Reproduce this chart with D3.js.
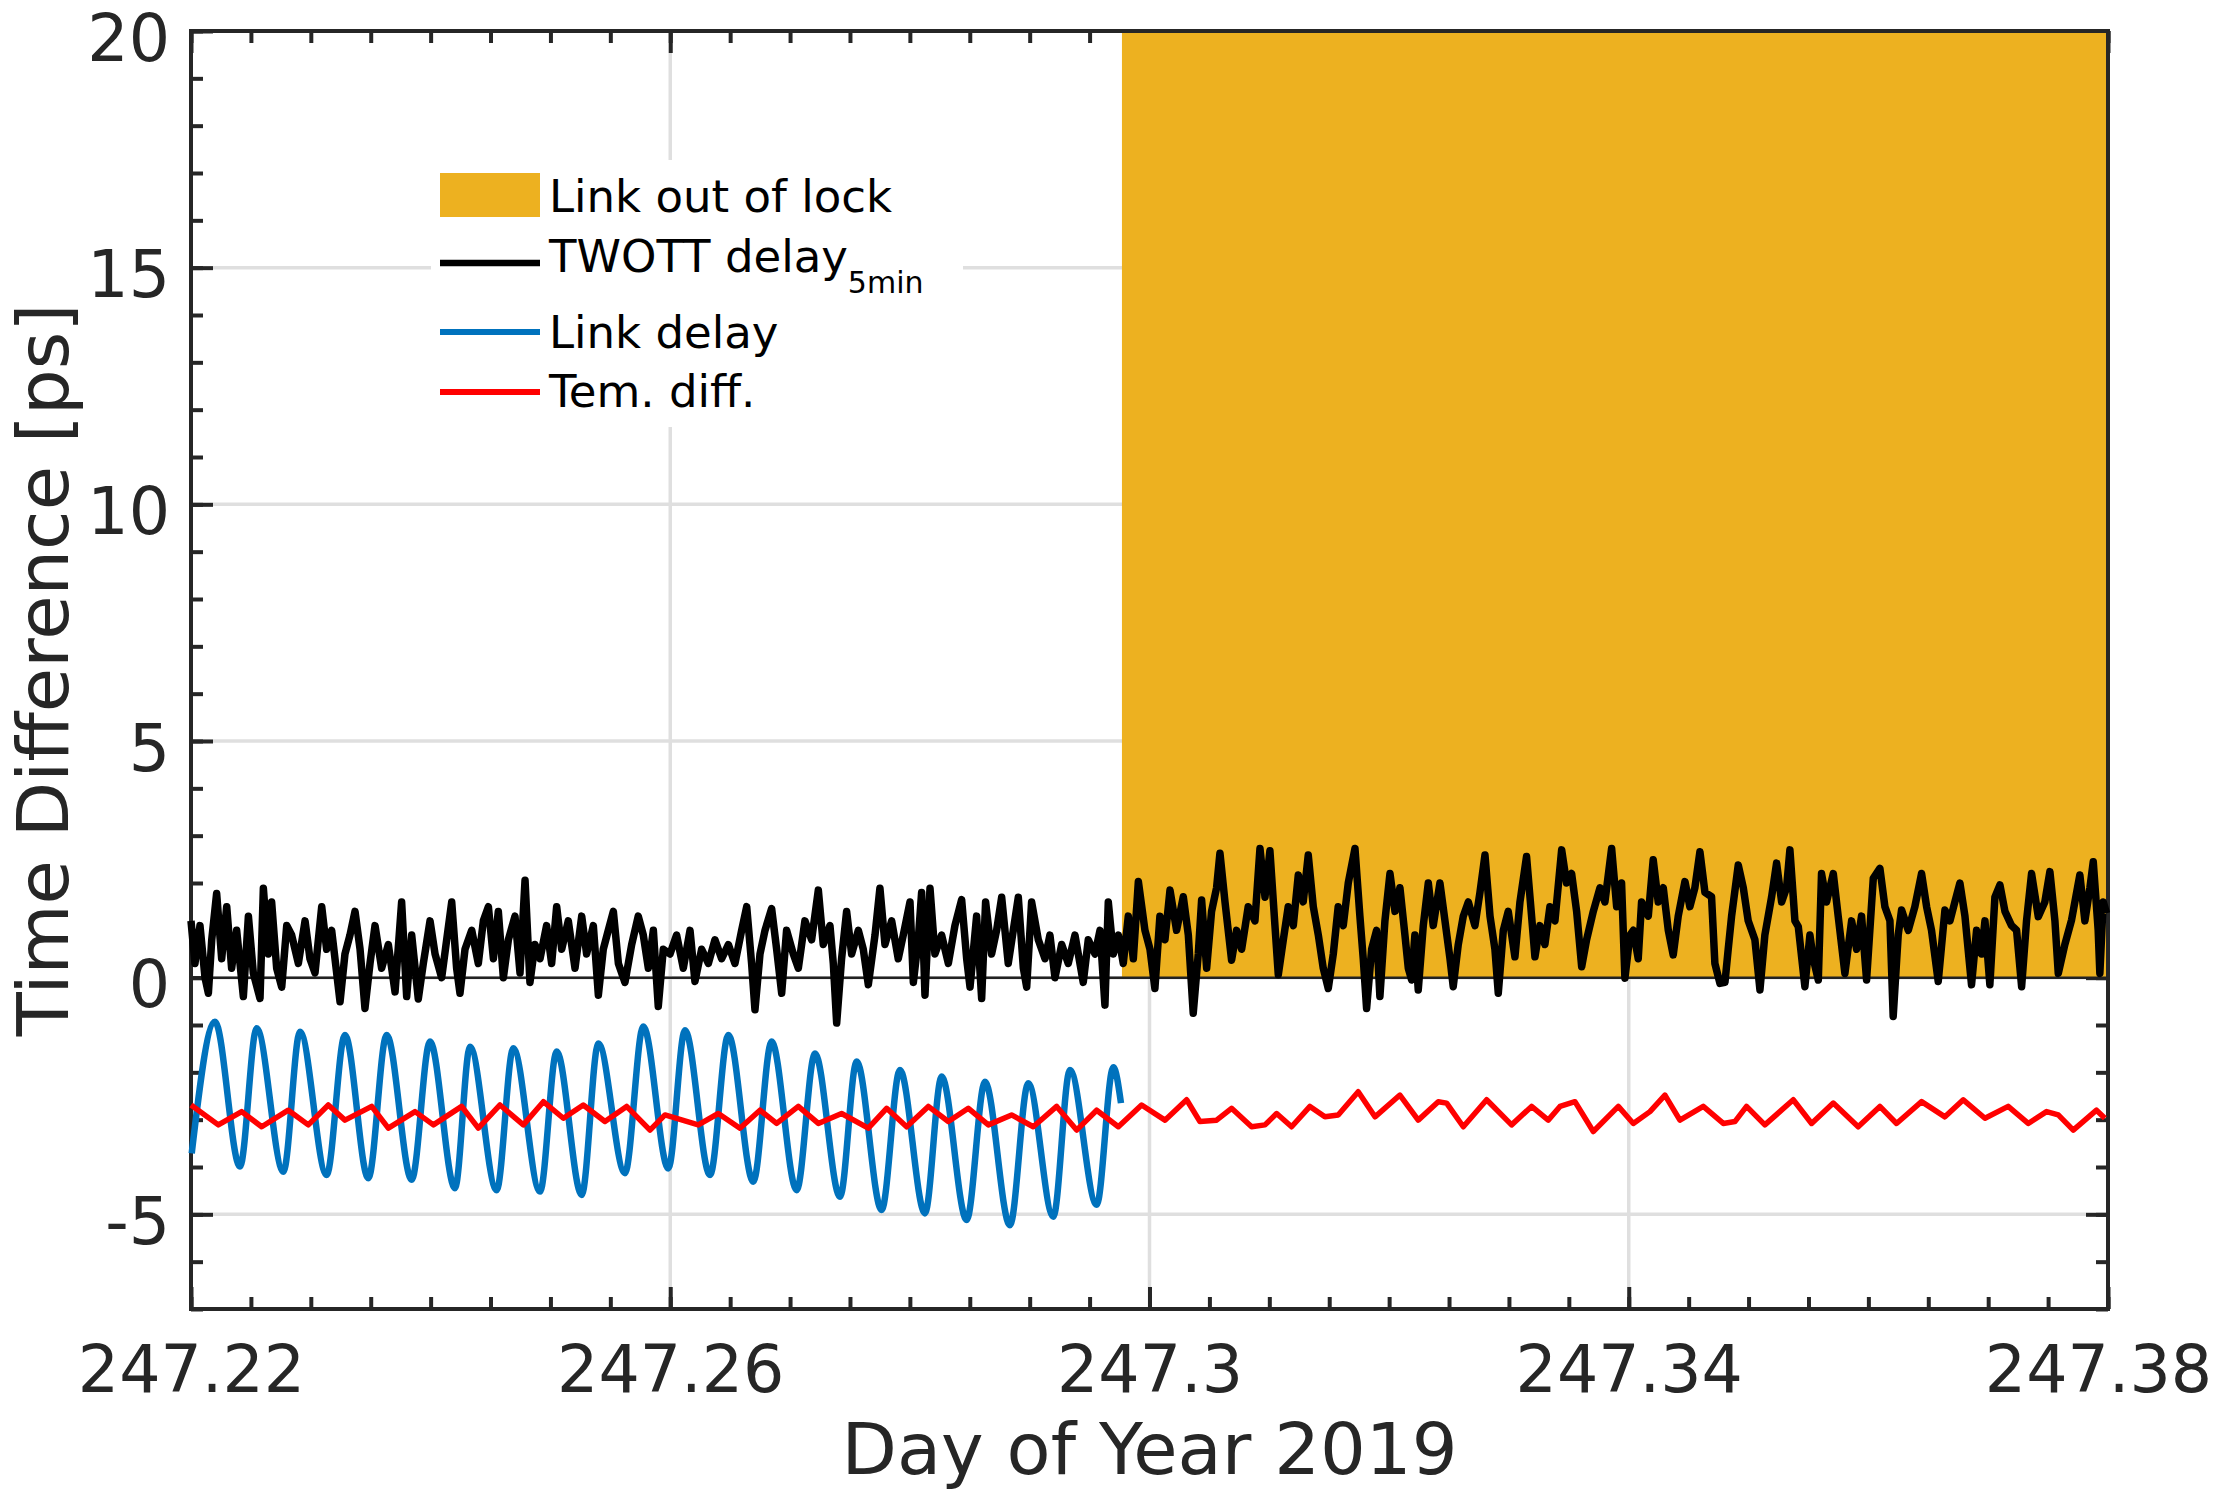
<!DOCTYPE html>
<html>
<head>
<meta charset="utf-8">
<script src="https://cdn.jsdelivr.net/npm/d3@7"></script>
<style>
  body { margin: 0; background: #fff; }
  svg { display: block; font-family: "DejaVu Sans", sans-serif; }
</style>
</head>
<body>
<svg width="2219" height="1494"></svg>
<script>
// axis ticks
const xTicks = [247.22, 247.26, 247.30, 247.34, 247.38];
const yTicks = [-5, 0, 5, 10, 15, 20];

// link out of lock interval
const lockStart = 247.2977;
const lockEnd = 247.38;
const lockLevel = 20;

// TWOTT delay 5min [day, ps]
const twott = [
  [247.22000,1.2],[247.22033,0.3],[247.22075,1.1],[247.22117,0.0],[247.22145,-0.33],[247.22173,0.8],
  [247.22214,1.78],[247.22256,0.4],[247.22298,1.5],[247.22339,0.2],[247.22381,1.0],[247.22437,-0.4],
  [247.22479,1.3],[247.22520,0.1],[247.22576,-0.44],[247.22604,1.89],[247.22645,0.5],[247.22673,1.6],
  [247.22715,0.2],[247.22757,-0.2],[247.22799,1.1],[247.22840,0.9],[247.22896,0.3],[247.22952,1.2],
  [247.22993,0.4],[247.23035,0.1],[247.23091,1.5],[247.23132,0.6],[247.23174,1.0],[247.23244,-0.51],
  [247.23285,0.5],[247.23327,0.9],[247.23369,1.4],[247.23411,0.6],[247.23452,-0.65],[247.23494,0.3],
  [247.23536,1.1],[247.23591,0.2],[247.23647,0.7],[247.23703,-0.3],[247.23758,1.6],[247.23800,-0.4],
  [247.23842,0.9],[247.23897,-0.45],[247.23939,0.3],[247.23995,1.2],[247.24037,0.5],[247.24092,0.0],
  [247.24134,0.8],[247.24176,1.6],[247.24217,0.2],[247.24245,-0.33],[247.24287,0.6],[247.24343,1.0],
  [247.24398,0.3],[247.24440,1.2],[247.24482,1.5],[247.24524,0.4],[247.24565,1.4],[247.24607,0.0],
  [247.24649,0.8],[247.24704,1.3],[247.24746,0.1],[247.24788,2.06],[247.24829,-0.1],[247.24871,0.7],
  [247.24913,0.4],[247.24968,1.1],[247.25010,0.3],[247.25052,1.5],[247.25094,0.6],[247.25149,1.2],
  [247.25205,0.2],[247.25261,1.3],[247.25302,0.5],[247.25358,1.1],[247.25400,-0.37],[247.25441,0.6],
  [247.25483,1.0],[247.25525,1.4],[247.25567,0.3],[247.25622,-0.1],[247.25678,0.7],[247.25733,1.3],
  [247.25775,0.9],[247.25817,0.2],[247.25859,1.0],[247.25900,-0.61],[247.25942,0.6],
  [247.25998,0.5],[247.26053,0.9],[247.26109,0.2],[247.26165,1.0],[247.26206,-0.08],[247.26262,0.6],
  [247.26318,0.3],[247.26373,0.8],[247.26429,0.4],[247.26485,0.7],[247.26540,0.3],[247.26596,1.0],
  [247.26638,1.5],[247.26679,0.3],[247.26707,-0.68],[247.26749,0.5],[247.26791,1.0],[247.26846,1.46],
  [247.26888,0.6],[247.26930,-0.33],[247.26971,1.0],[247.27027,0.5],[247.27069,0.2],[247.27124,1.2],
  [247.27180,0.8],[247.27236,1.85],[247.27277,0.7],[247.27333,1.1],[247.27361,0.3],[247.27389,-0.96],
  [247.27430,0.4],[247.27472,1.4],[247.27514,0.5],[247.27570,1.0],[247.27611,0.6],[247.27653,-0.15],
  [247.27709,0.9],[247.27750,1.89],[247.27792,0.7],[247.27848,1.2],[247.27903,0.4],[247.27945,0.9],
  [247.28001,1.6],[247.28029,-0.1],[247.28070,0.8],[247.28098,1.8],[247.28126,-0.37],[247.28168,1.89],
  [247.28209,0.5],[247.28265,0.9],[247.28321,0.3],[247.28376,1.1],[247.28432,1.65],[247.28474,0.4],
  [247.28502,-0.2],[247.28557,1.3],[247.28599,-0.44],[247.28632,1.6],[247.28682,0.5],[247.28724,1.0],
  [247.28766,1.7],[247.28821,0.3],[247.28863,1.0],[247.28905,1.7],[247.28947,0.2],[247.28975,-0.2],
  [247.29016,1.6],[247.29072,0.8],[247.29128,0.4],[247.29169,0.9],[247.29211,0.0],[247.29267,0.7],
  [247.29322,0.3],[247.29378,0.9],[247.29447,-0.1],[247.29489,0.8],[247.29545,0.5],[247.29587,1.0],
  [247.29628,-0.58],[247.29656,1.6],[247.29698,0.5],[247.29740,0.9],[247.29781,0.3],[247.29823,1.3],
  [247.29865,0.4],[247.29907,2.03],[247.29962,1.0],
  [247.30004,0.6],[247.30045,-0.23],[247.30087,1.3],[247.30129,0.8],[247.30171,1.85],[247.30226,1.0],
  [247.30282,1.71],[247.30324,0.9],[247.30365,-0.75],[247.30407,0.5],[247.30435,1.64],[247.30477,0.2],
  [247.30518,1.4],[247.30560,1.9],[247.30588,2.63],[247.30630,1.6],[247.30685,0.37],[247.30727,1.0],
  [247.30769,0.6],[247.30824,1.5],[247.30880,1.2],[247.30922,2.73],[247.30964,1.7],[247.31005,2.68],
  [247.31047,1.1],[247.31075,0.06],[247.31117,0.8],[247.31158,1.5],[247.31200,1.1],[247.31242,2.17],
  [247.31283,1.6],[247.31325,2.59],[247.31367,1.5],[247.31409,0.9],[247.31450,0.2],[247.31492,-0.23],
  [247.31534,0.5],[247.31575,1.5],[247.31617,1.1],[247.31659,2.0],[247.31715,2.73],[247.31756,1.3],
  [247.31784,0.4],[247.31812,-0.65],[247.31854,0.6],[247.31895,1.0],[247.31923,-0.40],[247.31965,1.2],
  [247.32007,2.2],[247.32049,1.4],[247.32090,1.9],[247.32132,0.9],[247.32160,0.2],[247.32188,-0.05],
  [247.32215,0.9],[247.32243,-0.26],[247.32285,1.1],[247.32327,2.0],[247.32368,1.1],[247.32424,2.0],
  [247.32466,1.2],[247.32508,0.4],[247.32535,-0.19],[247.32577,0.7],[247.32619,1.3],[247.32661,1.6],
  [247.32716,1.1],[247.32758,1.8],[247.32800,2.59],[247.32842,1.3],[247.32883,0.6],[247.32911,-0.33],
  [247.32953,1.0],[247.32994,1.4],[247.33050,0.44],[247.33092,1.6],[247.33147,2.56],[247.33189,1.3],
  [247.33217,0.44],[247.33259,1.1],[247.33300,0.7],[247.33342,1.5],[247.33384,1.2],[247.33440,2.70],
  [247.33481,2.0],[247.33523,2.2],[247.33565,1.4],[247.33607,0.23],[247.33648,0.8],[247.33704,1.4],
  [247.33760,1.9],[247.33801,1.6],[247.33857,2.73],[247.33899,1.5],[247.33940,2.0],[247.33968,-0.01],
  [247.34010,0.9],
  [247.34038,1.0],[247.34079,0.4],[247.34107,1.6],[247.34163,1.3],[247.34204,2.49],[247.34246,1.6],
  [247.34288,1.9],[247.34330,1.0],[247.34371,0.48],[247.34413,1.3],[247.34469,2.03],[247.34510,1.5],
  [247.34552,1.9],[247.34594,2.66],[247.34636,1.8],[247.34691,1.71],[247.34719,0.3],[247.34761,-0.12],
  [247.34803,-0.1],[247.34830,0.6],[247.34858,1.29],[247.34914,2.38],[247.34956,1.9],[247.34997,1.2],
  [247.35053,0.8],[247.35095,-0.26],[247.35136,0.9],[247.35192,1.7],[247.35234,2.42],[247.35276,1.6],
  [247.35317,1.9],[247.35345,2.70],[247.35387,1.2],[247.35415,1.08],[247.35470,-0.19],[247.35512,0.9],
  [247.35540,0.4],[247.35582,-0.05],[247.35609,2.2],[247.35651,1.6],[247.35707,2.2],[247.35748,1.3],
  [247.35804,0.09],[247.35860,1.2],[247.35902,0.6],[247.35943,1.3],[247.35985,-0.05],[247.36041,2.1],
  [247.36096,2.31],[247.36138,1.5],[247.36180,1.2],[247.36207,-0.82],[247.36249,0.9],[247.36277,1.43],
  [247.36333,1.0],[247.36388,1.5],[247.36444,2.20],[247.36486,1.5],[247.36527,1.0],[247.36583,-0.08],
  [247.36639,1.43],[247.36681,1.2],[247.36722,1.6],[247.36764,2.0],[247.36806,1.3],[247.36861,-0.15],
  [247.36903,1.0],[247.36945,0.5],[247.36973,1.2],[247.37014,-0.15],[247.37056,1.7],[247.37098,1.96],
  [247.37140,1.4],[247.37195,1.1],[247.37237,1.0],[247.37279,-0.19],[247.37320,1.2],[247.37362,2.2],
  [247.37418,1.29],[247.37473,1.6],[247.37515,2.24],[247.37557,1.2],[247.37585,0.09],[247.37640,0.7],
  [247.37696,1.22],[247.37765,2.17],[247.37807,1.2],[247.37849,1.9],[247.37877,2.45],[247.37918,1.0],
  [247.37932,0.09],[247.37960,1.6],[247.37988,1.36]
];

// link delay [day, ps]
const linkDelay = [
  [247.22006,-3.71],[247.22200,-0.93],[247.22409,-3.99],[247.22548,-1.07],[247.22771,-4.10],[247.22910,-1.14],
  [247.23132,-4.17],[247.23285,-1.21],[247.23480,-4.24],[247.23633,-1.21],[247.23842,-4.27],[247.23995,-1.35],
  [247.24203,-4.45],[247.24329,-1.46],[247.24551,-4.49],[247.24690,-1.49],[247.24913,-4.52],[247.25052,-1.56],
  [247.25261,-4.59],[247.25400,-1.39],[247.25622,-4.13],[247.25775,-1.03],[247.25984,-4.03],[247.26123,-1.11],
  [247.26332,-4.17],[247.26485,-1.21],[247.26693,-4.31],[247.26846,-1.35],[247.27055,-4.49],[247.27208,-1.60],
  [247.27417,-4.63],[247.27556,-1.77],[247.27764,-4.91],[247.27917,-1.95],[247.28126,-4.98],[247.28265,-2.09],
  [247.28474,-5.12],[247.28627,-2.20],[247.28835,-5.23],[247.28988,-2.23],[247.29197,-5.05],[247.29336,-1.95],
  [247.29559,-4.80],[247.29698,-1.89],[247.29762,-2.65]
];

// temperature difference [day, ps]
const temDiff = [
  [247.22000,-2.69],[247.22228,-3.11],[247.22423,-2.83],[247.22590,-3.15],[247.22812,-2.80],[247.22979,-3.11],
  [247.23146,-2.69],[247.23285,-3.01],[247.23508,-2.72],[247.23647,-3.18],[247.23870,-2.83],[247.24023,-3.11],
  [247.24259,-2.72],[247.24398,-3.18],[247.24579,-2.69],[247.24774,-3.11],[247.24941,-2.62],[247.25108,-2.97],
  [247.25274,-2.69],[247.25455,-3.04],[247.25636,-2.72],[247.25831,-3.22],[247.25956,-2.90],[247.26234,-3.11],
  [247.26401,-2.87],[247.26582,-3.18],[247.26749,-2.80],[247.26888,-3.08],[247.27069,-2.72],[247.27236,-3.08],
  [247.27430,-2.87],[247.27653,-3.18],[247.27806,-2.76],[247.27973,-3.15],[247.28154,-2.72],[247.28321,-3.04],
  [247.28488,-2.76],[247.28655,-3.11],[247.28849,-2.90],[247.29030,-3.15],[247.29225,-2.72],[247.29392,-3.22],
  [247.29559,-2.80],[247.29740,-3.15],[247.29934,-2.69],[247.30129,-3.01],[247.30310,-2.58],[247.30421,-3.04],
  [247.30560,-3.01],[247.30685,-2.76],[247.30852,-3.15],[247.30964,-3.11],[247.31061,-2.87],[247.31186,-3.15],
  [247.31339,-2.72],[247.31464,-2.94],[247.31575,-2.90],[247.31742,-2.41],[247.31882,-2.94],[247.32090,-2.48],
  [247.32243,-3.01],[247.32410,-2.62],[247.32480,-2.65],[247.32619,-3.15],[247.32814,-2.58],[247.33022,-3.11],
  [247.33189,-2.72],[247.33328,-3.01],[247.33426,-2.72],[247.33551,-2.62],[247.33704,-3.25],[247.33913,-2.72],
  [247.34038,-3.08],[247.34177,-2.83],[247.34302,-2.48],[247.34427,-3.01],[247.34622,-2.72],[247.34789,-3.08],
  [247.34886,-3.04],[247.34983,-2.72],[247.35136,-3.11],[247.35373,-2.58],[247.35526,-3.08],[247.35707,-2.65],
  [247.35915,-3.15],[247.36096,-2.72],[247.36235,-3.08],[247.36444,-2.62],[247.36639,-2.94],[247.36792,-2.58],
  [247.36973,-2.97],[247.37167,-2.72],[247.37334,-3.08],[247.37487,-2.83],[247.37585,-2.90],[247.37710,-3.22],
  [247.37904,-2.80],[247.37974,-2.97]
];

const svg = d3.select('svg');
const plotLeft = 191, plotRight = 2108, plotTop = 31, plotBottom = 1309;
const axisColor = '#262626';

const x = d3.scaleLinear().domain([247.22, 247.38]).range([plotLeft, plotRight]);
const y = d3.scaleLinear().domain([-7, 20]).range([plotBottom, plotTop]);

// grid
const grid = svg.append('g').attr('stroke', '#dfdfdf').attr('stroke-width', 3.5);
grid.selectAll('.gx').data(xTicks.slice(1, -1)).join('line')
  .attr('x1', d => x(d)).attr('x2', d => x(d)).attr('y1', plotTop).attr('y2', plotBottom);
grid.selectAll('.gy').data(yTicks.slice(0, -1)).join('line')
  .attr('y1', d => y(d)).attr('y2', d => y(d)).attr('x1', plotLeft).attr('x2', plotRight);

// ticks (inward, mirrored on all sides)
const xMinor = d3.range(0, 33).map(i => 247.22 + i * 0.005);
const yMinor = d3.range(-7, 21);
const fmt = d => String(+d.toFixed(2));

function styleAxis(g) {
  g.attr('font-family', null).attr('font-size', null);
  g.select('.domain').remove();
  g.selectAll('.tick line').attr('stroke', axisColor).attr('stroke-width', 4);
  g.selectAll('.tick text').attr('fill', axisColor).attr('font-size', 65);
}

svg.append('g').attr('transform', `translate(0,${plotBottom})`)
  .call(d3.axisBottom(x).tickValues(xMinor).tickSize(-12).tickFormat('')).call(styleAxis);
svg.append('g').attr('transform', `translate(0,${plotTop})`)
  .call(d3.axisTop(x).tickValues(xMinor).tickSize(-12).tickFormat('')).call(styleAxis);
svg.append('g').attr('transform', `translate(0,${plotBottom})`)
  .call(d3.axisBottom(x).tickValues(xTicks).tickSize(-22).tickPadding(37).tickFormat(fmt)).call(styleAxis)
  .call(g => g.selectAll('.tick:last-of-type text').attr('dx', -10));
svg.append('g').attr('transform', `translate(0,${plotTop})`)
  .call(d3.axisTop(x).tickValues(xTicks).tickSize(-22).tickFormat('')).call(styleAxis);

svg.append('g').attr('transform', `translate(${plotLeft},0)`)
  .call(d3.axisLeft(y).tickValues(yMinor).tickSize(-12).tickFormat('')).call(styleAxis);
svg.append('g').attr('transform', `translate(${plotRight},0)`)
  .call(d3.axisRight(y).tickValues(yMinor).tickSize(-12).tickFormat('')).call(styleAxis);
svg.append('g').attr('transform', `translate(${plotLeft},0)`)
  .call(d3.axisLeft(y).tickValues(yTicks).tickSize(-22).tickPadding(21).tickFormat(d => d < 0 ? '-' + Math.abs(d) : d))
  .call(styleAxis)
  .call(g => g.selectAll('.tick text').attr('dy', '0.45em'));
svg.append('g').attr('transform', `translate(${plotRight},0)`)
  .call(d3.axisRight(y).tickValues(yTicks).tickSize(-22).tickFormat('')).call(styleAxis);

// out-of-lock area
svg.append('rect')
  .attr('x', x(lockStart)).attr('y', y(lockLevel))
  .attr('width', x(lockEnd) - x(lockStart)).attr('height', y(0) - y(lockLevel))
  .attr('fill', '#EDB120');

// area baseline
svg.append('line')
  .attr('x1', plotLeft).attr('x2', plotRight).attr('y1', y(0)).attr('y2', y(0))
  .attr('stroke', '#222').attr('stroke-width', 2.5);

// box
svg.append('rect')
  .attr('x', plotLeft).attr('y', plotTop).attr('width', plotRight - plotLeft).attr('height', plotBottom - plotTop)
  .attr('fill', 'none').attr('stroke', axisColor).attr('stroke-width', 4);

const line = d3.line().x(d => x(d[0])).y(d => y(d[1]));

svg.append('path').datum(twott)
  .attr('d', line).attr('fill', 'none').attr('stroke', '#000')
  .attr('stroke-width', 7.5).attr('stroke-linejoin', 'round');

svg.append('path').datum(linkDelay)
  .attr('d', line.curve(d3.curveMonotoneX)).attr('fill', 'none').attr('stroke', '#0072BD')
  .attr('stroke-width', 6.5);

svg.append('path').datum(temDiff)
  .attr('d', line.curve(d3.curveLinear)).attr('fill', 'none').attr('stroke', '#FF0000')
  .attr('stroke-width', 5.5).attr('stroke-linejoin', 'round');

// legend
const legend = svg.append('g');
legend.append('rect').attr('x', 431).attr('y', 160).attr('width', 532).attr('height', 267).attr('fill', '#fff');
legend.append('rect').attr('x', 440).attr('y', 173).attr('width', 100).attr('height', 44).attr('fill', '#EDB120');

const legendLines = [
  { y: 263, color: '#000', w: 6.5 },
  { y: 332, color: '#0072BD', w: 6 },
  { y: 392, color: '#FF0000', w: 6 }
];
legend.selectAll('.ll').data(legendLines).join('line')
  .attr('x1', 440).attr('x2', 540).attr('y1', d => d.y).attr('y2', d => d.y)
  .attr('stroke', d => d.color).attr('stroke-width', d => d.w);

const lt = legend.append('g').attr('fill', '#000').attr('font-size', 45);
lt.append('text').attr('x', 549).attr('y', 212).text('Link out of lock');
const tw = lt.append('text').attr('x', 549).attr('y', 272);
tw.append('tspan').text('TWOTT delay');
tw.append('tspan').attr('font-size', 30).attr('dy', 21).text('5min');
lt.append('text').attr('x', 549).attr('y', 348).text('Link delay');
lt.append('text').attr('x', 549).attr('y', 407).text('Tem. diff.');

// axis labels
svg.append('text')
  .attr('x', (plotLeft + plotRight) / 2).attr('y', 1474)
  .attr('text-anchor', 'middle').attr('font-size', 72).attr('fill', axisColor)
  .text('Day of Year 2019');

svg.append('text')
  .attr('transform', `translate(68,${(plotTop + plotBottom) / 2}) rotate(-90)`)
  .attr('text-anchor', 'middle').attr('font-size', 72).attr('fill', axisColor)
  .text('Time Difference [ps]');
</script>
</body>
</html>
